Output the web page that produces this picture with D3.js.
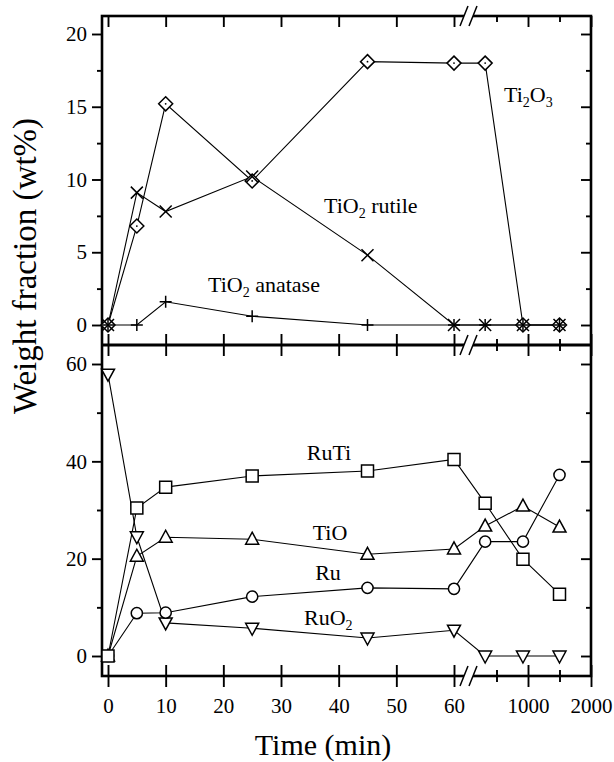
<!DOCTYPE html>
<meta charset="utf-8">
<head>
<script src="https://d3js.org/d3.v7.min.js"></script>
<style>
  body { margin: 0; background: #fff; }
  text { font-family: "Liberation Serif", "Times New Roman", serif; fill: #000; }
</style>
</head>
<body>
<svg id="chart" width="614" height="762"></svg>
<script>
// time points (min); the last three lie after the axis break
var times = [0, 5, 10, 25, 45, 60, 320, 920, 1500];

// upper panel (wt%)
var ti2o3   = [0, 6.8, 15.2, 9.9, 18.1, 18.0, 18.0, 0, 0];
var rutile  = [0, 9.1, 7.8, 10.2, 4.8, 0, 0, 0, 0];
var anatase = [0, 0, 1.6, 0.6, 0, 0, 0, 0, 0];

// lower panel (wt%)
var ruti = [0, 30.4, 34.7, 37.0, 38.0, 40.4, 31.4, 19.9, 12.7];
var tio  = [0, 20.5, 24.4, 24.0, 20.9, 22.0, 26.7, 30.8, 26.5];
var ru   = [0, 8.8, 8.9, 12.2, 14.0, 13.8, 23.5, 23.5, 37.2];
var ruo2 = [57.9, 24.5, 6.8, 5.7, 3.7, 5.3, 0, 0, 0];

// tick values
var xTicksA = [0, 10, 20, 30, 40, 50, 60];
var xTicksB = [1000, 2000];
var xMinorB = [500, 1500];
var yTicksTop = [0, 5, 10, 15, 20];
var yMinorTop = [2.5, 7.5, 12.5, 17.5];
var yTicksBot = [0, 20, 40, 60];
var yMinorBot = [10, 30, 50];

var svg = d3.select("#chart");

// frame (note: "top" is taken by window.top)
var fLeft = 102, fRight = 591, fTop = 16, fMid = 345, fBottom = 676;

// x is split in two pieces around the break
var xa = d3.scaleLinear().domain([0, 60]).range([108, 454]);
var xb = d3.scaleLinear().domain([1000, 2000]).range([528, 591]);
function x(t) { return t <= 60 ? xa(t) : xb(t); }

var yTop = d3.scaleLinear().domain([0, 20]).range([325, 34]);
var yBot = d3.scaleLinear().domain([0, 60]).range([656, 364]);

// ---- y axes
function yAxes(scale, major, minor) {
	// left, ticks outside
	var g = svg.append("g").attr("transform", "translate(" + fLeft + ",0)");
	g.call(d3.axisLeft(scale).tickValues(major).tickSize(10).tickPadding(5));
	g.append("g").call(d3.axisLeft(scale).tickValues(minor).tickSize(5).tickFormat(""));
	// right, ticks inside
	var r = svg.append("g").attr("transform", "translate(" + fRight + ",0)");
	r.call(d3.axisLeft(scale).tickValues(major).tickSize(10).tickFormat(""));
	r.append("g").call(d3.axisLeft(scale).tickValues(minor).tickSize(5).tickFormat(""));
}
yAxes(yTop, yTicksTop, yMinorTop);
yAxes(yBot, yTicksBot, yMinorBot);

// ---- x axes: bottom (labels, ticks across), middle (across), top (inside)
function xAxis(ypos, mode, labels) {
	var g = svg.append("g").attr("transform", "translate(0," + ypos + ")");
	var fmt = labels ? d3.format("d") : "";
	var a = g.append("g").call(d3.axisBottom(xa).tickValues(xTicksA).tickSize(11).tickPadding(11).tickFormat(fmt));
	var b = g.append("g").call(d3.axisBottom(xb).tickValues(xTicksB).tickSize(11).tickPadding(11).tickFormat(fmt));
	var c = g.append("g").call(d3.axisBottom(xb).tickValues(xMinorB).tickSize(6).tickFormat(""));
	[a, b, c].forEach(function (s) {
		s.selectAll(".tick line").each(function () {
			var l = d3.select(this), len = +l.attr("y2");
			if (mode == "across") l.attr("y1", -len);
			if (mode == "inside") l.attr("y1", 0).attr("y2", len);
		});
	});
}
xAxis(fBottom, "across", true);
xAxis(fMid, "across", false);
xAxis(fTop, "inside", false);

svg.selectAll(".domain").remove();
svg.selectAll(".tick line").attr("stroke", "#000").attr("stroke-width", 1.9);
svg.selectAll(".tick text").attr("font-size", 21).attr("font-family", "Liberation Serif, serif").attr("fill", "#000");

// frame lines
svg.append("rect").attr("x", fLeft).attr("y", fTop).attr("width", fRight - fLeft).attr("height", fBottom - fTop)
	.attr("fill", "none").attr("stroke", "#000").attr("stroke-width", 2.6);
svg.append("line").attr("x1", fLeft).attr("x2", fRight).attr("y1", fMid).attr("y2", fMid)
	.attr("stroke", "#000").attr("stroke-width", 2.8);

// axis break marks
[fTop, fMid, fBottom].forEach(function (yy) {
	svg.append("rect").attr("x", 464).attr("y", yy - 3).attr("width", 9).attr("height", 6).attr("fill", "#fff");
	[463, 472].forEach(function (x0) {
		svg.append("line").attr("x1", x0 - 3).attr("y1", yy + 10).attr("x2", x0 + 5).attr("y2", yy - 10)
			.attr("stroke", "#000").attr("stroke-width", 1.5);
	});
});

// ---- markers
var markers = {
	diamond: "M0,-7L7,0L0,7L-7,0Z",
	square: "M-6,-6H6V6H-6Z",
	up: "M0,-7L6.5,5L-6.5,5Z",
	down: "M0,7L6.5,-5L-6.5,-5Z",
	circle: "M5.6,0A5.6,5.6 0 1,1 -5.6,0A5.6,5.6 0 1,1 5.6,0Z",
	cross: "M-6,-6L6,6M-6,6L6,-6",
	plus: "M-6,0H6M0,-6V6"
};

var series = [
	{ v: ti2o3, y: yTop, m: "diamond", dot: true },
	{ v: rutile, y: yTop, m: "cross" },
	{ v: anatase, y: yTop, m: "plus" },
	{ v: ruo2, y: yBot, m: "down" },
	{ v: ru, y: yBot, m: "circle" },
	{ v: tio, y: yBot, m: "up" },
	{ v: ruti, y: yBot, m: "square" }
];

series.forEach(function (s) {
	var line = d3.line().x(function (d, i) { return x(times[i]); }).y(function (d) { return s.y(d); });
	svg.append("path").datum(s.v).attr("d", line)
		.attr("fill", "none").attr("stroke", "#000").attr("stroke-width", 1.1);
});

series.forEach(function (s) {
	var open = s.m == "cross" || s.m == "plus";
	var g = svg.append("g");
	g.selectAll("path").data(s.v).enter().append("path")
		.attr("transform", function (d, i) { return "translate(" + x(times[i]) + "," + s.y(d) + ")"; })
		.attr("d", markers[s.m])
		.attr("fill", open ? "none" : "#fff")
		.attr("stroke", "#000").attr("stroke-width", 1.5);
	if (s.dot) {
		g.selectAll("circle").data(s.v).enter().append("circle")
			.attr("cx", function (d, i) { return x(times[i]); })
			.attr("cy", function (d) { return s.y(d); })
			.attr("r", 0.9).attr("fill", "#000");
	}
});

// ---- series labels
function label(px, py, parts, anchor) {
	var t = svg.append("text").attr("x", px).attr("y", py).attr("font-size", 22)
		.attr("text-anchor", anchor || "start");
	parts.forEach(function (p) {
		if (p[1]) t.append("tspan").attr("font-size", 14).attr("dy", 5).text(p[0]);
		else t.append("tspan").attr("dy", p[2] ? -5 : 0).text(p[0]);
	});
}
label(504, 102, [["Ti"], ["2", 1], ["O", 0, 1], ["3", 1]]);
label(324, 213, [["TiO"], ["2", 1], [" rutile", 0, 1]]);
label(208, 292, [["TiO"], ["2", 1], [" anatase", 0, 1]]);
label(329, 460, [["RuTi"]], "middle");
label(330, 540, [["TiO"]], "middle");
label(328, 580, [["Ru"]], "middle");
label(304, 625, [["RuO"], ["2", 1]]);

// ---- axis titles
svg.append("text").attr("transform", "translate(36,266) rotate(-90)")
	.attr("text-anchor", "middle").attr("font-size", 33).text("Weight fraction (wt%)");
svg.append("text").attr("x", 323).attr("y", 755)
	.attr("text-anchor", "middle").attr("font-size", 30).text("Time (min)");
</script>
</body>
